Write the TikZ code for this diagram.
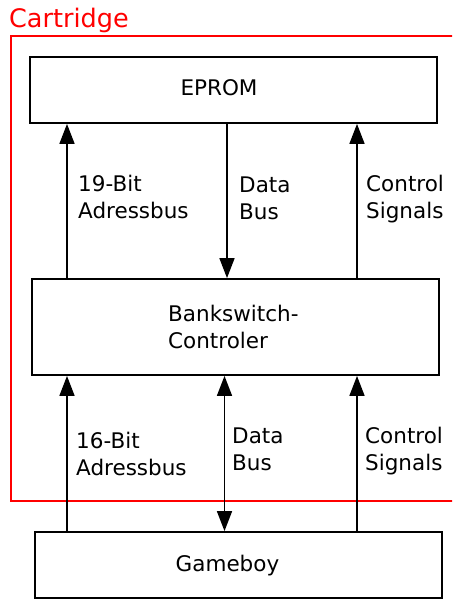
\documentclass[tikz,border=0pt]{standalone}
\usepackage{fontspec}
\setmainfont{DejaVu Sans}
\usetikzlibrary{arrows.meta}
\tikzset{
    unitbox/.style={draw, line width=1.8pt, inner sep=0pt},
    bustext/.style={anchor=north west, inner sep=0pt, align=left,
        font=\fontsize{21.5}{27}\selectfont},
    bus/.style={line width=1.6pt, -{Triangle[length=20pt,width=15pt]}},
    busboth/.style={line width=1.6pt, {Triangle[length=20pt,width=15pt]}-{Triangle[length=20pt,width=15pt]}}
}
\begin{document}
\begin{tikzpicture}[x=1pt, y=-1pt]
    % page
    \clip (0,0) rectangle (452,599);

    % cartridge frame
    \draw[red, line width=1.3pt] (11,36) rectangle (480,501);
    \node[red, anchor=base west, inner sep=0pt, font=\fontsize{25.5}{30}\selectfont] (cart) at (9,28) {Cartridge};

    % the three units
    \node[unitbox, minimum width=407pt, minimum height=66pt] (eprom) at (233.5,90) {};
    \node[unitbox, minimum width=407pt, minimum height=96pt] (bank) at (235.5,327) {};
    \node[unitbox, minimum width=407pt, minimum height=66pt] (gameboy) at (238.5,565) {};

    \node[anchor=base, inner sep=0pt, font=\fontsize{21.5}{27}\selectfont] (epromtxt) at (219,96) {EPROM};
    \node[bustext] (banktxt) at (168,304.5) {Bankswitch-\\Controler};
    \node[anchor=base, inner sep=0pt, font=\fontsize{21.5}{27}\selectfont] (gameboytxt) at (227.5,571) {Gameboy};

    % EPROM <-> controller
    \draw[bus] (bank.north -| 67,0) -- (eprom.south -| 67,0);
    \draw[bus] (eprom.south -| 227,0) -- (bank.north -| 227,0);
    \draw[bus] (bank.north -| 357,0) -- (eprom.south -| 357,0);

    \node[bustext] (adr19) at (78,174.5) {19-Bit\\Adressbus};
    \node[bustext] (data1) at (239,176.5) {Data\\Bus};
    \node[bustext] (ctrl1) at (366,175) {Control\\Signals};

    % controller <-> gameboy
    \draw[bus] (gameboy.north -| 67,0) -- (bank.south -| 67,0);
    \draw[busboth] (gameboy.north -| 224.5,0) -- (bank.south -| 224.5,0);
    \draw[bus] (gameboy.north -| 357,0) -- (bank.south -| 357,0);

    \node[bustext] (adr16) at (76,431.5) {16-Bit\\Adressbus};
    \node[bustext] (data2) at (232,427.5) {Data\\Bus};
    \node[bustext] (ctrl2) at (365,426.5) {Control\\Signals};
\end{tikzpicture}
\end{document}
